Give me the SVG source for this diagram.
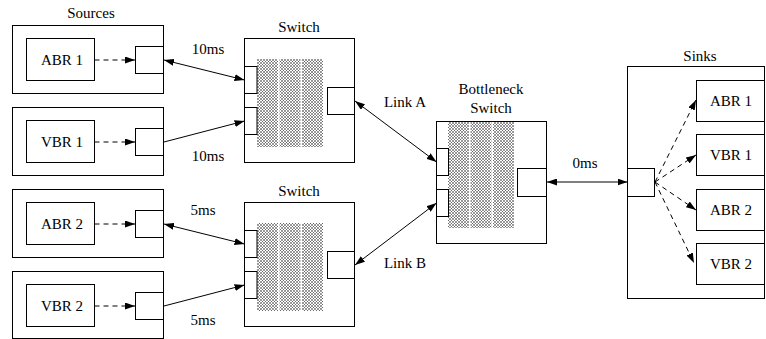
<svg xmlns="http://www.w3.org/2000/svg" width="766" height="339" viewBox="0 0 766 339">
<defs>
<pattern id="hatch" width="3" height="3" patternUnits="userSpaceOnUse">
<rect width="3" height="3" fill="#fff"/>
<path d="M0,0 L3,3 M3,0 L0,3" stroke="#333" stroke-width="0.5"/>
</pattern>
<marker id="ah" viewBox="0 0 10 7" refX="10" refY="3.5" markerWidth="10" markerHeight="7" markerUnits="userSpaceOnUse" orient="auto-start-reverse">
<path d="M0,0 L10,3.5 L0,7 z" fill="#000"/>
</marker>
</defs>
<style>
.b{fill:#fff;stroke:#000;stroke-width:1}
.n{fill:none;stroke:#000;stroke-width:1}
.h{fill:url(#hatch);stroke:none}
.t{font-family:"Liberation Serif","Times New Roman",serif;font-size:15px;fill:#000;text-anchor:middle}
.c{fill:none;stroke:#000;stroke-width:1}
.d{fill:none;stroke:#000;stroke-width:1;stroke-dasharray:5,4}
</style>

<text class="t" x="91" y="18">Sources</text>

<g id="src-abr1">
<rect class="b" x="12.5" y="25.5" width="151" height="68"/>
<rect class="b" x="26.5" y="38.5" width="68" height="42"/>
<text class="t" x="62" y="65">ABR 1</text>
<rect class="b" x="135.5" y="46.5" width="28" height="27"/>
</g>
<g id="src-vbr1">
<rect class="b" x="12.5" y="107.5" width="151" height="68"/>
<rect class="b" x="26.5" y="120.5" width="68" height="42"/>
<text class="t" x="62" y="147">VBR 1</text>
<rect class="b" x="135.5" y="128.5" width="28" height="27"/>
</g>
<g id="src-abr2">
<rect class="b" x="12.5" y="189.5" width="151" height="68"/>
<rect class="b" x="26.5" y="202.5" width="68" height="42"/>
<text class="t" x="62" y="229">ABR 2</text>
<rect class="b" x="135.5" y="210.5" width="28" height="27"/>
</g>
<g id="src-vbr2">
<rect class="b" x="12.5" y="271.5" width="151" height="67"/>
<rect class="b" x="26.5" y="284.5" width="68" height="42"/>
<text class="t" x="62" y="311">VBR 2</text>
<rect class="b" x="135.5" y="292.5" width="28" height="27"/>
</g>

<g id="switch1">
<text class="t" x="299" y="32">Switch</text>
<rect class="b" x="244.5" y="38.5" width="110" height="124"/>
<rect class="h" x="257" y="59" width="21" height="88"/>
<rect class="h" x="279.5" y="59" width="21" height="88"/>
<rect class="h" x="302" y="59" width="21" height="88"/>
<rect class="n" x="244.5" y="66.5" width="12.5" height="27"/>
<rect class="n" x="244.5" y="107.5" width="12.5" height="27"/>
<rect class="b" x="327.5" y="87.5" width="27" height="27"/>
</g>

<g id="switch2">
<text class="t" x="299" y="196">Switch</text>
<rect class="b" x="244.5" y="202.5" width="110" height="124"/>
<rect class="h" x="257" y="223" width="21" height="88"/>
<rect class="h" x="279.5" y="223" width="21" height="88"/>
<rect class="h" x="302" y="223" width="21" height="88"/>
<rect class="n" x="244.5" y="230.5" width="12.5" height="27"/>
<rect class="n" x="244.5" y="271.5" width="12.5" height="27"/>
<rect class="b" x="327.5" y="251.5" width="27" height="27"/>
</g>

<g id="bottleneck">
<text class="t" x="491" y="94">Bottleneck</text>
<text class="t" x="491" y="113">Switch</text>
<rect class="b" x="436.5" y="121.5" width="110" height="122"/>
<rect class="h" x="448" y="122" width="21" height="106"/>
<rect class="h" x="470.5" y="122" width="21" height="106"/>
<rect class="h" x="493" y="122" width="21" height="106"/>
<rect class="n" x="436.5" y="148.5" width="12" height="27"/>
<rect class="n" x="436.5" y="189.5" width="12" height="27"/>
<rect class="b" x="517.5" y="168.5" width="29" height="28"/>
</g>

<g id="sinks">
<text class="t" x="700" y="61">Sinks</text>
<rect class="b" x="627.5" y="66.5" width="137" height="232"/>
<rect class="b" x="627.5" y="168.5" width="27" height="28"/>
</g>
<g id="sink-abr1">
<rect class="b" x="696.5" y="80.5" width="68" height="41"/>
<text class="t" x="731" y="106">ABR 1</text>
</g>
<g id="sink-vbr1">
<rect class="b" x="696.5" y="134.5" width="68" height="41"/>
<text class="t" x="731" y="160">VBR 1</text>
</g>
<g id="sink-abr2">
<rect class="b" x="696.5" y="189.5" width="68" height="41"/>
<text class="t" x="731" y="215">ABR 2</text>
</g>
<g id="sink-vbr2">
<rect class="b" x="696.5" y="243.5" width="68" height="41"/>
<text class="t" x="731" y="269">VBR 2</text>
</g>

<g id="connectors">
<line class="d" x1="94.5" y1="60" x2="135" y2="60" marker-end="url(#ah)"/>
<line class="d" x1="94.5" y1="142" x2="135" y2="142" marker-end="url(#ah)"/>
<line class="d" x1="94.5" y1="224" x2="135" y2="224" marker-end="url(#ah)"/>
<line class="d" x1="94.5" y1="306" x2="135" y2="306" marker-end="url(#ah)"/>

<line class="c" x1="164" y1="60" x2="244.5" y2="80" marker-start="url(#ah)" marker-end="url(#ah)"/>
<line class="c" x1="164" y1="142" x2="244.5" y2="121" marker-end="url(#ah)"/>
<line class="c" x1="164" y1="224" x2="244.5" y2="244" marker-start="url(#ah)" marker-end="url(#ah)"/>
<line class="c" x1="164" y1="306" x2="244.5" y2="285" marker-end="url(#ah)"/>

<line class="c" x1="355" y1="101" x2="436.5" y2="162" marker-start="url(#ah)" marker-end="url(#ah)"/>
<line class="c" x1="355" y1="265" x2="436.5" y2="203" marker-start="url(#ah)" marker-end="url(#ah)"/>
<line class="c" x1="547" y1="182" x2="627.5" y2="182" marker-start="url(#ah)" marker-end="url(#ah)"/>

<line class="d" x1="655" y1="182" x2="696" y2="100" marker-end="url(#ah)"/>
<line class="d" x1="655" y1="182" x2="696" y2="155" marker-end="url(#ah)"/>
<line class="d" x1="655" y1="182" x2="696" y2="210" marker-end="url(#ah)"/>
<line class="d" x1="655" y1="182" x2="694" y2="263" marker-end="url(#ah)"/>
</g>

<text class="t" x="208" y="54">10ms</text>
<text class="t" x="208" y="161">10ms</text>
<text class="t" x="203" y="215">5ms</text>
<text class="t" x="203" y="325">5ms</text>
<text class="t" x="405" y="107">Link A</text>
<text class="t" x="405" y="268">Link B</text>
<text class="t" x="585" y="168">0ms</text>
</svg>
